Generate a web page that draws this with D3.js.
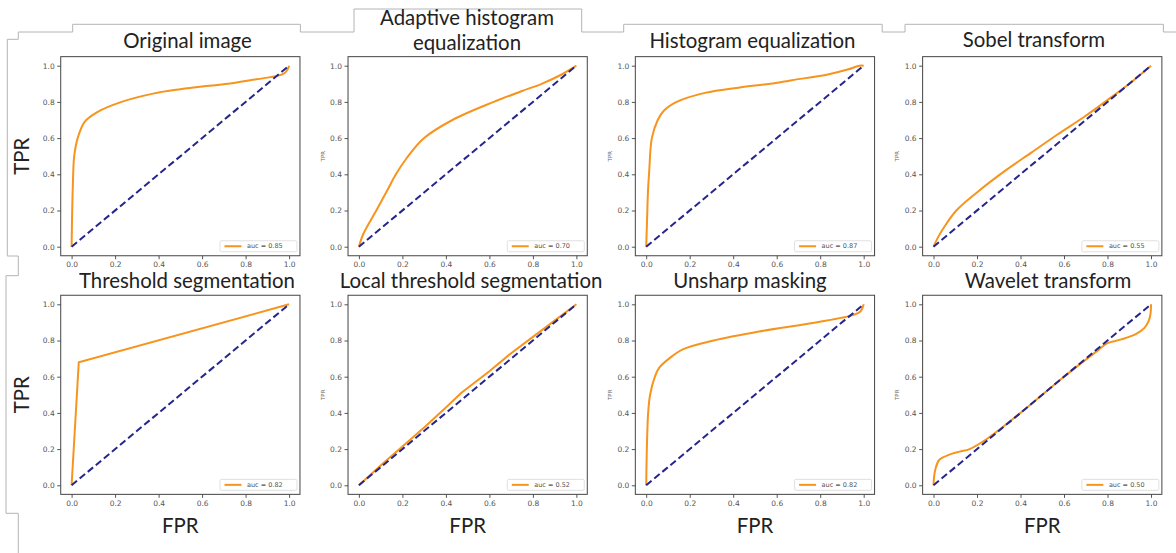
<!DOCTYPE html>
<html>
<head>
<meta charset="utf-8">
<script src="https://cdn.jsdelivr.net/npm/d3@7"></script>
<style>
  body { margin: 0; background: #fff; }
  svg { display: block; }
</style>
</head>
<body>
<script>
// panel titles, row by row
var titles = [
    ["Original image"],
    ["Adaptive histogram", "equalization"],
    ["Histogram equalization"],
    ["Sobel transform"],
    ["Threshold segmentation"],
    ["Local threshold segmentation"],
    ["Unsharp masking"],
    ["Wavelet transform"]
];
var aucLabels = ["0.85", "0.70", "0.87", "0.55", "0.82", "0.52", "0.82", "0.50"];
var ticks = [0, 0.2, 0.4, 0.6, 0.8, 1.0];
var diagonal = [[0, 0], [1, 1]];

// ROC points [fpr, tpr]
var original = [[0,0],[0.002,0.15],[0.006,0.35],[0.012,0.5],[0.028,0.6],[0.06,0.69],[0.12,0.745],
    [0.23,0.8],[0.38,0.847],[0.5,0.87],[0.6,0.885],[0.72,0.9],[0.85,0.925],[0.95,0.945],[0.98,0.96],[0.995,0.985],[1,1]];
var adaptive = [[0,0],[0.02,0.07],[0.08,0.2],[0.13,0.31],[0.17,0.4],[0.22,0.49],[0.3,0.6],[0.43,0.7],
    [0.62,0.8],[0.75,0.86],[0.84,0.9],[0.93,0.95],[1,1]];
var histEq = [[0,0],[0.004,0.15],[0.008,0.3],[0.014,0.42],[0.026,0.6],[0.053,0.7],[0.08,0.75],[0.14,0.8],
    [0.27,0.85],[0.43,0.88],[0.57,0.9],[0.67,0.92],[0.83,0.95],[0.93,0.98],[0.98,1],[1,1]];
var sobel = [[0,0],[0.02,0.05],[0.05,0.11],[0.105,0.2],[0.2,0.3],[0.33,0.42],[0.45,0.52],[0.57,0.62],
    [0.69,0.715],[0.8,0.81],[0.9,0.9],[1,1]];
var threshold = [[0,0],[0.033,0.68],[1,1]];
var localThreshold = [[0,0],[0.1,0.11],[0.2,0.215],[0.3,0.32],[0.4,0.43],[0.47,0.51],[0.6,0.63],
    [0.7,0.73],[0.8,0.82],[0.9,0.91],[1,1]];
var unsharp = [[0,0],[0.002,0.15],[0.004,0.25],[0.009,0.4],[0.018,0.5],[0.04,0.6],[0.06,0.65],[0.105,0.7],
    [0.166,0.75],[0.31,0.8],[0.52,0.85],[0.78,0.9],[0.95,0.94],[0.985,0.96],[1,1]];
var wavelet = [[0,0],[0.003,0.05],[0.009,0.09],[0.026,0.14],[0.07,0.168],[0.12,0.186],[0.166,0.2],
    [0.25,0.26],[0.4,0.4],[0.6,0.6],[0.75,0.74],[0.8,0.785],[0.86,0.805],[0.93,0.835],[0.97,0.87],
    [0.99,0.91],[0.998,0.95],[1,1]];

var curves = [original, adaptive, histEq, sobel, threshold, localThreshold, unsharp, wavelet];
var straight = [false, false, false, false, true, true, false, false];

// layout
var width = 1176, height = 553;
var colX = 71.6, colStep = 287.3, unitW = 217.5;
var rowY = [65.7, 304.3], unitH = 181;
var titleX = [187.5, 467, 752.4, 1033.8, 187, 471, 750, 1048];
var titleBase = [48, 24.5, 47.5, 47, 288, 288, 288, 288];

var orange = "#f7941d",
    navy = "#25258c",
    frameColor = "#444",
    tickColor = "#555",
    titleFont = "Lato, 'Open Sans', sans-serif";

var svg = d3.select("body").append("svg")
    .attr("width", width)
    .attr("height", height);

// scale Lato so "Original image" has the width Calibri 22px gives it
var probe = svg.append("text").style("font-family", titleFont).style("font-size", "22px").text("Original image");
var fontK = 128.6 / probe.node().getComputedTextLength();
probe.remove();
var bigSize = 22 * fontK;

// bracket outline behind the panels
svg.append("path")
    .attr("d", "M7.3,256 V39.3 H18.3 V32 H72.7 V24.3 H300.4 V32 H354 V9 H581.7 V32 H623.7 V24.3 H882.2 V32 H905 V24.3 H1163.4 V32 H1176")
    .attr("fill", "none").attr("stroke", "#b4b4b4").attr("stroke-width", 1);
svg.append("path")
    .attr("d", "M7.3,256 H18.3 V275.7 H6 V513.3 H18.3 V553")
    .attr("fill", "none").attr("stroke", "#b4b4b4").attr("stroke-width", 1);

curves.forEach(function (pts, idx) {
    var col = idx % 4, row = Math.floor(idx / 4);
    var x0 = colX + col * colStep, y1 = rowY[row];

    var x = d3.scaleLinear().domain([0, 1]).range([x0, x0 + unitW]);
    var y = d3.scaleLinear().domain([0, 1]).range([y1 + unitH, y1]);

    var g = svg.append("g");

    // axes
    var xAxis = g.append("g")
        .attr("transform", "translate(0," + y(-0.05) + ")")
        .call(d3.axisBottom(x).tickValues(ticks).tickSize(3.5).tickPadding(2.5).tickFormat(d3.format(".1f")));
    var yAxis = g.append("g")
        .attr("transform", "translate(" + x(-0.05) + ",0)")
        .call(d3.axisLeft(y).tickValues(ticks).tickSize(3.5).tickPadding(2.5).tickFormat(d3.format(".1f")));
    [xAxis, yAxis].forEach(function (a) {
        a.select(".domain").remove();
        a.selectAll("line").attr("stroke", tickColor);
        a.selectAll("text")
            .attr("fill", tickColor)
            .style("font-family", "'DejaVu Sans', sans-serif")
            .style("font-size", "7.5px");
    });

    // frame
    g.append("rect")
        .attr("x", x(-0.05)).attr("y", y(1.05))
        .attr("width", x(1.05) - x(-0.05)).attr("height", y(-0.05) - y(1.05))
        .attr("fill", "none").attr("stroke", frameColor).attr("stroke-width", 1);

    var line = d3.line()
        .x(function (d) { return x(d[0]); })
        .y(function (d) { return y(d[1]); })
        .curve(straight[idx] ? d3.curveLinear : d3.curveCatmullRom.alpha(0.5));

    g.append("path").datum(pts)
        .attr("d", line)
        .attr("fill", "none").attr("stroke", orange).attr("stroke-width", 2);

    g.append("path").datum(diagonal)
        .attr("d", line.curve(d3.curveLinear))
        .attr("fill", "none").attr("stroke", navy).attr("stroke-width", 2)
        .attr("stroke-dasharray", "7,3.5");

    // legend
    var lw = 77, lh = 11;
    var lx = x(1.05) - 3 - lw, ly = y(-0.05) - 4 - lh;
    g.append("rect")
        .attr("x", lx).attr("y", ly).attr("width", lw).attr("height", lh).attr("rx", 1.5)
        .attr("fill", "#fff").attr("stroke", "#d8d8d8").attr("stroke-width", 0.8);
    g.append("line")
        .attr("x1", lx + 4.5).attr("x2", lx + 21.5)
        .attr("y1", ly + lh / 2).attr("y2", ly + lh / 2)
        .attr("stroke", orange).attr("stroke-width", 2);
    g.append("text")
        .attr("x", lx + 27).attr("y", ly + lh / 2 + 2.2)
        .attr("fill", tickColor)
        .style("font-family", "'DejaVu Sans', sans-serif")
        .style("font-size", "6.5px")
        .text("auc = " + aucLabels[idx]);

    // title
    var t = svg.append("text")
        .attr("text-anchor", "middle")
        .attr("fill", "#222")
        .style("font-family", titleFont)
        .style("font-size", bigSize + "px");
    titles[idx].forEach(function (s, k) {
        t.append("tspan")
            .attr("x", titleX[idx])
            .attr("y", titleBase[idx] + k * 25.5)
            .text(s);
    });

    // y label: big in the first column, tiny elsewhere
    var cy = (y(-0.05) + y(1.05)) / 2;
    if (col === 0) {
        svg.append("text")
            .attr("transform", "translate(29," + cy + ") rotate(-90)")
            .attr("text-anchor", "middle")
            .attr("fill", "#222")
            .style("font-family", titleFont)
            .style("font-size", bigSize + "px")
            .text("TPR");
    } else {
        svg.append("text")
            .attr("transform", "translate(" + (x(-0.05) - 23.5) + "," + cy + ") rotate(-90)")
            .attr("text-anchor", "middle")
            .attr("fill", "#666")
            .style("font-family", "'DejaVu Sans', sans-serif")
            .style("font-size", "5.5px")
            .text("TPR");
    }

    // x label only on the bottom row
    if (row === 1) {
        svg.append("text")
            .attr("x", x(0.5)).attr("y", 533)
            .attr("text-anchor", "middle")
            .attr("fill", "#222")
            .style("font-family", titleFont)
            .style("font-size", bigSize + "px")
            .text("FPR");
    }
});
</script>
</body>
</html>
